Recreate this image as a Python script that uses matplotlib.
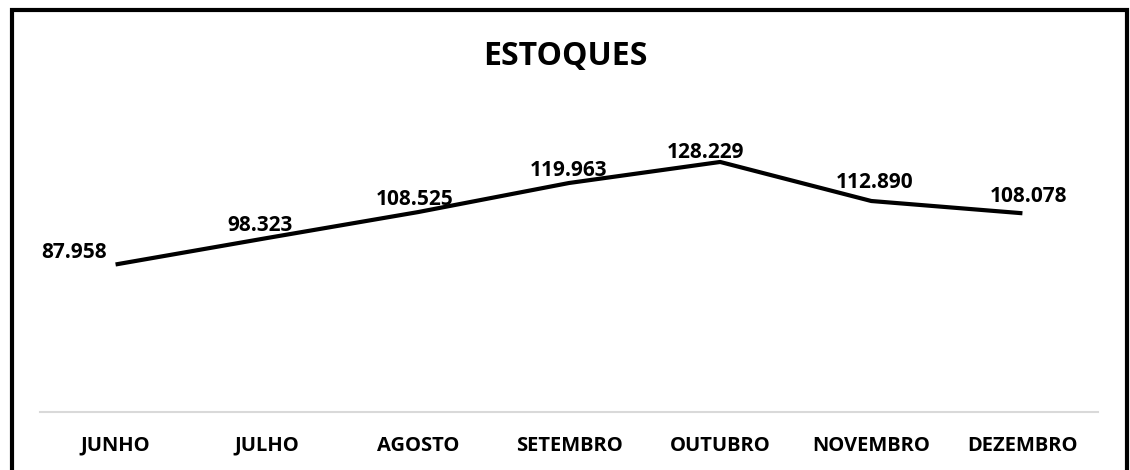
import matplotlib.pyplot as plt
from matplotlib.patches import Rectangle

meses = ['JUNHO', 'JULHO', 'AGOSTO', 'SETEMBRO', 'OUTUBRO', 'NOVEMBRO', 'DEZEMBRO']
estoques = [87.958, 98.323, 108.525, 119.963, 128.229, 112.890, 108.078]
rotulos = ['87.958', '98.323', '108.525', '119.963', '128.229', '112.890', '108.078']

# deslocamento dos rótulos em pixels (estilo, não dados)
desloc = [(-42, 12), (-7, 13), (-3, 13), (0, 13), (-15, 9), (3, 19), (6, 17)]

plt.rcParams['font.family'] = ['Open Sans', 'DejaVu Sans']

fig = plt.figure(figsize=(11.3, 4.7), dpi=100)
ax = fig.add_axes([40/1130, 1 - 412/470, (1098 - 40)/1130, (412 - 132)/470])

x = range(len(meses))
ax.plot(x, estoques, color='black', linewidth=3, solid_capstyle='butt')

for i, (v, r) in enumerate(zip(estoques, rotulos)):
    ax.annotate(r, (i, v), xytext=desloc[i], textcoords='offset pixels',
                ha='center', va='center', fontsize=15, fontweight='bold')

ax.set_xlim(-0.5, len(meses) - 0.5)
ax.set_ylim(30, 140)
ax.set_xticks(list(x))
ax.set_xticklabels(meses, fontsize=14.5, fontweight='bold')
ax.tick_params(axis='x', length=0, pad=17)
ax.set_yticks([])
for s in ['top', 'right', 'left']:
    ax.spines[s].set_visible(False)
ax.spines['bottom'].set_color('#d9d9d9')
ax.spines['bottom'].set_linewidth(1.5)

fig.text(0.5, 1 - 56/470, 'ESTOQUES', ha='center', va='center',
         fontsize=23, fontweight='bold')

# moldura
fig.patches.append(Rectangle((11.5/1130, -0.05), (1126.5 - 11.5)/1130, 1.05 - 9.5/470,
                             transform=fig.transFigure, fill=False,
                             edgecolor='black', linewidth=3, clip_on=False))

fig.savefig('out.png', dpi=100)
